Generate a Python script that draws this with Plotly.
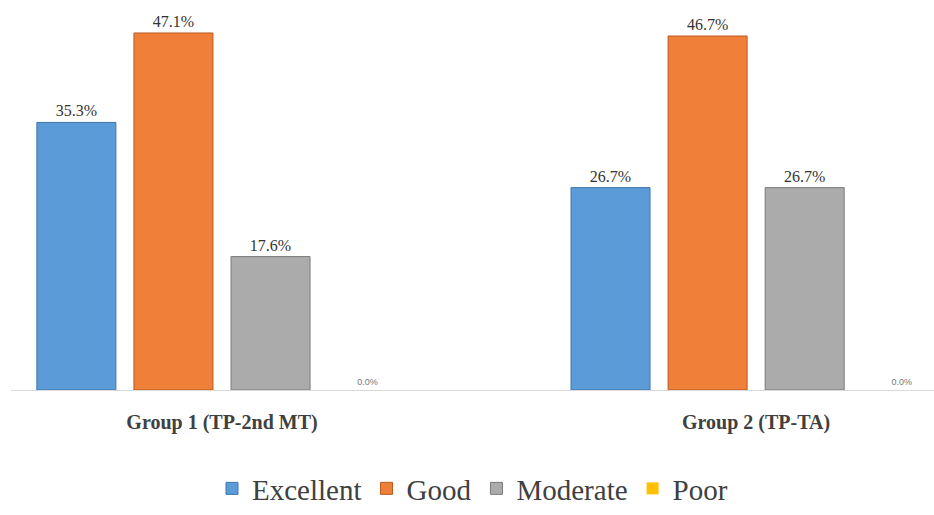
import plotly.graph_objects as go

groups = ["Group 1 (TP-2nd MT)", "Group 2 (TP-TA)"]
series = ["Excellent", "Good", "Moderate", "Poor"]
values = {
    "Excellent": [35.3, 26.7],
    "Good": [47.1, 46.7],
    "Moderate": [17.6, 26.7],
    "Poor": [0.0, 0.0],
}
colors = {
    "Excellent": "#5b9bd8",
    "Good": "#f07f3a",
    "Moderate": "#ababab",
    "Poor": "#ffc000",
}
lines = {
    "Excellent": "#3f76ad",
    "Good": "#b85a20",
    "Moderate": "#7a7a7a",
    "Poor": "#c09000",
}

SERIF = "Liberation Serif"
SANS = "Liberation Sans"

fig = go.Figure()
for s in series:
    vals = values[s]
    is_zero = all(v == 0 for v in vals)
    fig.add_trace(go.Bar(
        name=s,
        x=[0, 1],
        y=vals,
        marker=dict(color=colors[s], line=dict(color=lines[s], width=0 if is_zero else 1)),
        text=[f"{v:.1f}%" for v in vals],
        textposition="outside",
        textfont=dict(family=SANS if is_zero else SERIF,
                      size=9 if is_zero else 16,
                      color="#777777" if is_zero else "#333333"),
        cliponaxis=False,
    ))

fig.update_layout(
    width=934, height=515,
    font=dict(family=SERIF, color="#404040"),
    margin=dict(l=11, r=0, t=0, b=125),
    paper_bgcolor="white", plot_bgcolor="white",
    barmode="group",
    bargap=0.273,
    bargroupgap=0.186,
    showlegend=True,
    legend=dict(
        orientation="h", x=0.5, xanchor="center", y=-0.318, yanchor="bottom",
        font=dict(family=SERIF, size=29, color="#404040"),
        tracegroupgap=0, itemwidth=30,
    ),
    xaxis=dict(
        tickmode="array", tickvals=[0, 1], ticktext=groups,
        range=[-0.395, 1.333],
        showline=True, linecolor="#d9d9d9", linewidth=1,
        showgrid=False, zeroline=False, ticks="",
        ticklabelstandoff=14,
        tickfont=dict(family=SERIF, size=20, color="#404040", weight="bold"),
    ),
    yaxis=dict(
        range=[0, 51.45], visible=False, showgrid=False, zeroline=False,
    ),
)

fig.write_html("out.html")
